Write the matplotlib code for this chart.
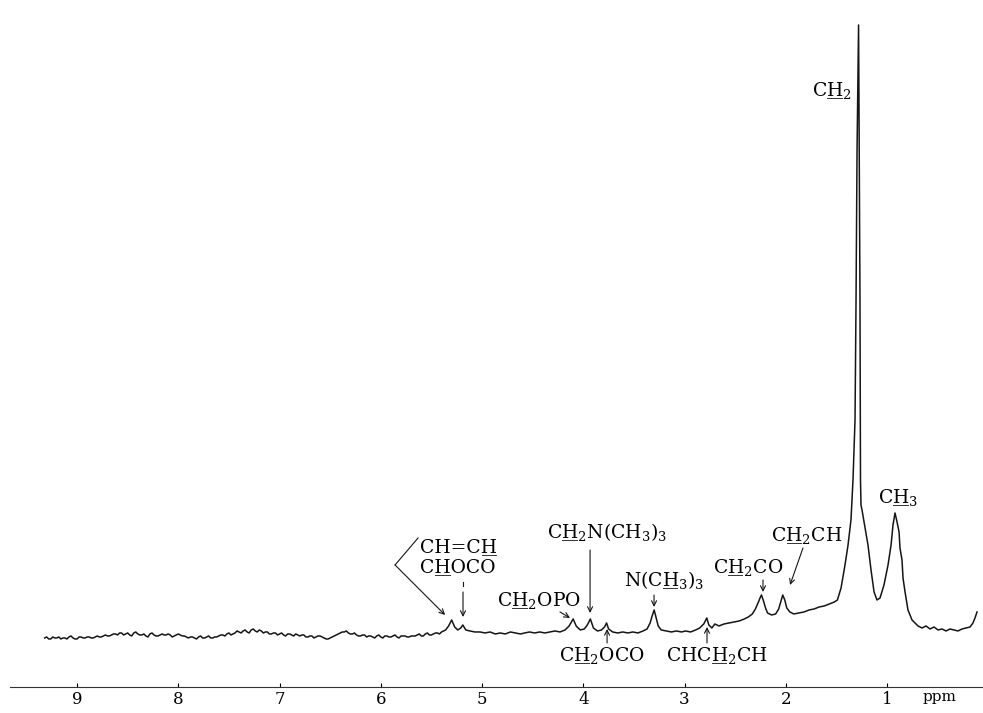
import numpy as np
import matplotlib.pyplot as plt
from matplotlib.lines import Line2D

plt.rcParams['font.family'] = ['DejaVu Serif']
plt.rcParams['mathtext.fontset'] = 'dejavuserif'

# ---- spectrum trace (ppm, relative intensity) ----
# flat noisy baseline, 9.32 -> 5.40 ppm, 0.02 ppm steps
noise_ppm = np.linspace(9.32, 5.40, 197)
noise_int = [2, 3, 1, 1, 3, 2, 2, 3, 1, 2, 2, 1, 3, 4, 2, 1, 1, 3, 3, 2, 2, 3, 3, 2, 2, 3, 4, 3,
             3, 4, 5, 4, 4, 5, 6, 6, 5, 7, 7, 5, 6, 7, 5, 4, 7, 8, 6, 5,
             5, 6, 4, 3, 6, 7, 5, 4, 4, 5, 6, 5, 5, 6, 5, 3, 4, 5, 6, 5, 4, 4, 3, 2,
             3, 3, 2, 1, 3, 4, 2, 2, 3, 4, 2, 2, 3, 3,
             4, 5, 5, 4, 6, 7, 5, 6, 7, 9, 8, 7,
             9, 10, 8, 7, 10, 11, 9, 8, 10, 9,
             7, 8, 8, 6, 6, 7, 7, 5, 6, 7, 5, 4, 6, 6, 5, 4, 6, 5,
             4, 5, 5, 3, 3, 4, 4, 2, 3, 4, 4, 3, 2, 1, 1, 2,
             3, 4, 5, 6, 7, 8, 8, 9, 7, 6, 6, 7,
             5, 4, 4, 5, 5, 3, 4, 4, 3, 2,
             4, 5, 3, 2, 4, 4, 3, 3, 4, 5, 3, 2, 4, 4, 4, 3, 3, 4, 4, 4,
             5, 6, 4, 4, 6, 7, 5, 5, 6, 7, 7, 6, 8]

# signal region, 5.36 -> 0.11 ppm
sig_ppm = [5.36, 5.33, 5.30, 5.27, 5.24, 5.21, 5.19, 5.16, 5.12, 5.07,
           5.02, 4.97, 4.92, 4.87, 4.82, 4.77, 4.72, 4.67, 4.62, 4.58,
           4.53, 4.48, 4.43, 4.38, 4.33, 4.28, 4.23, 4.18, 4.14, 4.10,
           4.07, 4.03, 3.99, 3.96, 3.93, 3.90, 3.86, 3.82, 3.79, 3.77,
           3.75, 3.71, 3.66, 3.61, 3.56, 3.51, 3.46, 3.41, 3.37, 3.34,
           3.32, 3.30, 3.28, 3.26, 3.23, 3.18, 3.13, 3.08, 3.03, 2.99,
           2.94, 2.89, 2.85, 2.81, 2.78, 2.76, 2.73, 2.70, 2.66, 2.61,
           2.56, 2.51, 2.46, 2.41, 2.37, 2.33, 2.30, 2.27, 2.25, 2.24,
           2.22, 2.20, 2.18, 2.14, 2.10, 2.07, 2.05, 2.03, 2.01, 1.99,
           1.96, 1.92, 1.87, 1.82, 1.77, 1.72, 1.67, 1.62, 1.57, 1.52,
           1.49, 1.454, 1.415, 1.385, 1.356, 1.336, 1.316, 1.306, 1.296, 1.281,
           1.267, 1.262, 1.257, 1.247, 1.217, 1.188, 1.158, 1.128, 1.099, 1.069,
           1.030, 0.990, 0.960, 0.941, 0.921, 0.901, 0.881, 0.872, 0.852, 0.842,
           0.822, 0.793, 0.753, 0.694, 0.654, 0.615, 0.575, 0.536, 0.496, 0.457,
           0.417, 0.378, 0.338, 0.299, 0.259, 0.220, 0.180, 0.151, 0.131, 0.111]
sig_int = [10, 14, 20, 13, 10, 12, 15, 10, 9, 8,
           8, 7, 8, 6, 7, 6, 8, 7, 6, 7,
           8, 7, 8, 7, 8, 9, 8, 10, 14, 21,
           14, 10, 11, 15, 21, 12, 9, 10, 13, 17,
           11, 8, 7, 8, 7, 8, 7, 9, 11, 17,
           24, 30, 22, 14, 10, 9, 8, 9, 8, 9,
           8, 10, 12, 16, 22, 15, 12, 16, 14, 16,
           17, 18, 19, 21, 23, 26, 31, 38, 43, 45,
           39, 32, 27, 25, 26, 31, 38, 45, 40, 32,
           28, 26, 27, 28, 30, 31, 33, 34, 36, 38,
           40, 52, 75, 95, 120, 160, 220, 340, 490, 615,
           340, 160, 135, 130, 112, 95, 70, 48, 40, 42,
           55, 75, 95, 115, 127, 118, 108, 92, 80, 62,
           48, 30, 20, 14, 12, 14, 11, 13, 10, 11,
           9, 11, 10, 9, 11, 12, 13, 17, 22, 28]

ppm = np.concatenate([noise_ppm, sig_ppm])
inten = np.concatenate([noise_int, sig_int])

tick_vals = [9, 8, 7, 6, 5, 4, 3, 2, 1]

FS = 13.5

fig = plt.figure(figsize=(9.83, 7.13), dpi=100)
ax = fig.add_axes([0.0102, 0.0365, 0.9898, 0.9355])
ax.plot(ppm, inten, color='#151515', lw=1.1)

ax.set_xlim(9.662, 0.052)
ax.set_ylim(-47, 620)
for s in ['top', 'left', 'right']:
    ax.spines[s].set_visible(False)
ax.spines['bottom'].set_linewidth(0.8)
ax.spines['bottom'].set_color('#333333')
ax.set_yticks([])
ax.set_xticks(tick_vals)
ax.set_xticklabels([str(v) for v in tick_vals], fontsize=12)
ax.tick_params(axis='x', direction='in', length=3, width=0.8, pad=3)
ax.text(0.48, -57, 'ppm', fontsize=11, ha='center', va='center')

# ---- peak labels ----
labels = []


def chem_label(x, y, text, prefix, mark='H', ha='center'):
    t = ax.text(x, y, text, fontsize=FS, ha=ha, va='baseline')
    labels.append((t, x, y, prefix, mark))


def arrow(x0, y0, x1, y1):
    ax.annotate('', xy=(x1, y1), xytext=(x0, y0),
                arrowprops=dict(arrowstyle='->', lw=0.8, color='#151515',
                                shrinkA=0, shrinkB=0, mutation_scale=9))


chem_label(1.543, 544, r'CH$_2$', 'C')
chem_label(0.891, 137, r'CH$_3$', 'C')

chem_label(1.790, 99, r'CH$_2$CH', 'C')
arrow(1.830, 92, 1.958, 55)

chem_label(2.373, 67, r'CH$_2$CO', 'C')
arrow(2.225, 60, 2.225, 48)

chem_label(3.202, 54, r'N(CH$_3$)$_3$', 'N(C')
arrow(3.301, 45, 3.301, 33)

chem_label(4.437, 34, r'CH$_2$OPO', 'C')
arrow(4.230, 28, 4.131, 22)

chem_label(4.358, 102, r'CH$_2$N(CH$_3$)$_3$', 'C', ha='left')
arrow(3.933, 90, 3.933, 27)

chem_label(5.612, 87, 'CH=CH', 'CH=C', ha='left')
chem_label(5.612, 67, 'CHOCO', 'C', ha='left')
ax.plot([5.632, 5.859], [102, 75], color='#151515', lw=0.8)
arrow(5.859, 75, 5.365, 25)
ax.plot([5.188, 5.188], [58, 54], color='#151515', lw=0.8)
arrow(5.188, 48, 5.188, 23)

chem_label(3.815, -21, r'CH$_2$OCO', 'C')
arrow(3.765, -3, 3.765, 11)

chem_label(2.679, -21, r'CHCH$_2$CH', 'CHC')
arrow(2.778, -3, 2.778, 13)

# underline the marked hydrogen in each label
fig.canvas.draw()
renderer = fig.canvas.get_renderer()
W, H = fig.bbox.width, fig.bbox.height
for t, x, y, prefix, mark in labels:
    bb = t.get_window_extent(renderer)
    tmp = ax.text(0, 0, prefix, fontsize=FS)
    w_pre = tmp.get_window_extent(renderer).width
    tmp.set_text(prefix + mark)
    w_all = tmp.get_window_extent(renderer).width
    tmp.remove()
    base = ax.transData.transform((x, y))[1]
    x0 = bb.x0 + w_pre + 1
    x1 = bb.x0 + w_all - 1
    yl = base - 2.5
    fig.add_artist(Line2D([x0 / W, x1 / W], [yl / H, yl / H],
                          transform=fig.transFigure, color='#333333', lw=0.7))

fig.savefig('out.png', dpi=100)
